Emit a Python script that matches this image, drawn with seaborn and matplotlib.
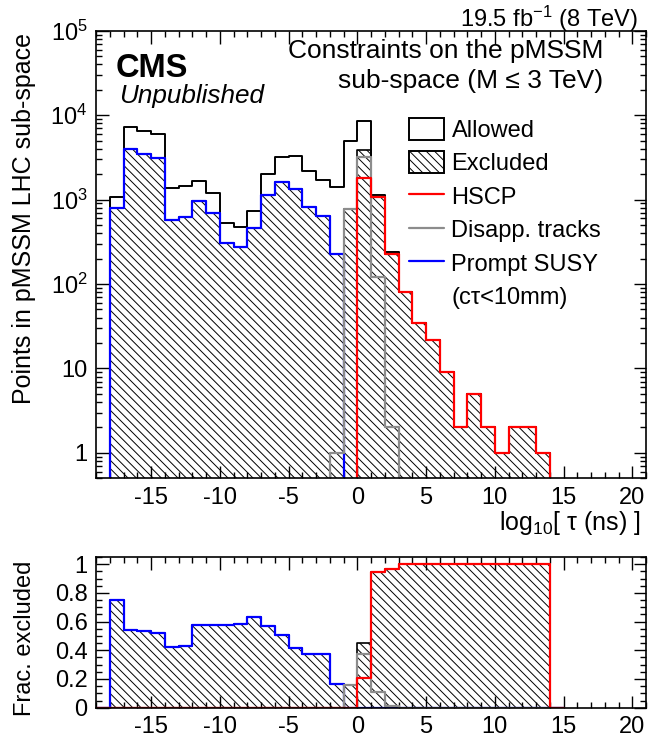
import numpy as np
import pandas as pd
import matplotlib
matplotlib.use('Agg')
import matplotlib.pyplot as plt
import seaborn as sns
from matplotlib.patches import Patch
from matplotlib.lines import Line2D
from matplotlib.ticker import FixedLocator, FixedFormatter, MultipleLocator, LogLocator, NullFormatter

# lower edges of the log10(tau/ns) bins (width 1)
bin_lo = list(range(-19, 15))

# points per bin
allowed = [0, 1070, 7280, 6470, 6020, 1365, 1443, 1667, 1213, 530, 471, 728, 2000, 3210, 3270,
           2190, 1700, 1415, 4890, 8510, 1140, 238, 80, 35, 22, 9, 2, 5, 2, 1, 2, 2, 1, 0]
excluded = [0, 806, 3960, 3455, 3120, 580, 618, 957, 695, 306, 275, 461, 1137, 1622, 1353,
            819, 641, 229, 784, 3855, 1080, 230, 80, 35, 22, 9, 2, 5, 2, 1, 2, 2, 1, 0]
hscp = [0, 0, 0, 0, 0, 0, 0, 0, 0, 0, 0, 0, 0, 0, 0,
        0, 0, 0, 0, 1780, 1080, 230, 80, 35, 22, 9, 2, 5, 2, 1, 2, 2, 1, 0]
disapp = [0, 0, 0, 0, 0, 0, 0, 0, 0, 0, 0, 0, 0, 0, 0,
          0, 0, 1, 784, 3210, 121, 2, 0, 0, 0, 0, 0, 0, 0, 0, 0, 0, 0, 0]
prompt = [0, 806, 3960, 3455, 3120, 580, 618, 957, 695, 306, 275, 461, 1137, 1622, 1353,
          819, 641, 229, 0, 0, 0, 0, 0, 0, 0, 0, 0, 0, 0, 0, 0, 0, 0, 0]

xticks = [-15, -10, -5, 0, 5, 10, 15, 20]
yticks_top = [1, 10, 100, 1e3, 1e4, 1e5]
ylabels_top = ['1', '10', '$10^{2}$', '$10^{3}$', '$10^{4}$', '$10^{5}$']
yticks_bot = [0, 0.2, 0.4, 0.6, 0.8, 1.0]
ylabels_bot = ['0', '0.2', '0.4', '0.6', '0.8', '1']

sns.set_theme(style='ticks')
plt.rcParams['font.family'] = ['Liberation Sans', 'DejaVu Sans']
plt.rcParams['mathtext.fontset'] = 'custom'
plt.rcParams['mathtext.rm'] = 'Liberation Sans'
plt.rcParams['mathtext.it'] = 'Liberation Sans:italic'
plt.rcParams['hatch.linewidth'] = 0.7
plt.rcParams['axes.linewidth'] = 1.2
plt.rcParams['text.color'] = 'black'

df = pd.DataFrame({'lo': bin_lo, 'allowed': allowed, 'excluded': excluded,
                   'hscp': hscp, 'disapp': disapp, 'prompt': prompt})
df['center'] = df['lo'] + 0.5
edges = [float(v) for v in df['lo']] + [float(df['lo'].iloc[-1] + 1)]
den = df['allowed'].replace(0, np.nan)
for c in ['excluded', 'hscp', 'disapp', 'prompt']:
    df['f_' + c] = (df[c] / den).fillna(0)

W, H = 649, 738
fig = plt.figure(figsize=(W / 100, H / 100), dpi=100)
ax = fig.add_axes([96 / W, 1 - 478.3 / H, 550 / W, (478.3 - 30.8) / H])
axr = fig.add_axes([96 / W, 1 - 707.7 / H, 550 / W, (707.7 - 557) / H])

hatch = '\\\\\\\\'
FS = 17

ax.set_yscale('log')
for a, pre in [(ax, ''), (axr, 'f_')]:
    sns.histplot(data=df, x='center', weights=pre + 'excluded', bins=edges, element='step',
                 fill=True, color='black', facecolor='none', edgecolor='black', hatch=hatch,
                 linewidth=1.2, ax=a)
    if pre == '':
        sns.histplot(data=df, x='center', weights='allowed', bins=edges, element='step',
                     fill=False, color='black', linewidth=1.4, ax=a)
    sns.histplot(data=df, x='center', weights=pre + 'prompt', bins=edges, element='step',
                 fill=False, color='#0000ff', linewidth=1.6, ax=a)
    sns.histplot(data=df, x='center', weights=pre + 'disapp', bins=edges, element='step',
                 fill=False, color='#8c8c8c', linewidth=1.6, ax=a)
    sns.histplot(data=df, x='center', weights=pre + 'hscp', bins=edges, element='step',
                 fill=False, color='#ff0000', linewidth=1.6, ax=a)

for a in (ax, axr):
    a.set_xlim(-19, 21)
    a.xaxis.set_major_locator(FixedLocator(xticks))
    a.xaxis.set_minor_locator(MultipleLocator(1))
    a.tick_params(which='both', direction='in', top=True, right=True, labelsize=FS,
                  colors='black', width=1)
    a.tick_params(which='major', length=9, pad=6)
    a.tick_params(which='minor', length=4.5)
    a.set_xlabel('')
    a.set_ylabel('')
    for s in a.spines.values():
        s.set_color('black')
    a.set_xticklabels([str(t) for t in xticks])

ax.set_ylim(0.5, 1e5)
ax.yaxis.set_major_locator(FixedLocator(yticks_top))
ax.yaxis.set_major_formatter(FixedFormatter(ylabels_top))
ax.yaxis.set_minor_locator(LogLocator(base=10, subs=np.arange(2, 10)))
ax.yaxis.set_minor_formatter(NullFormatter())

axr.set_ylim(0, 1.05)
axr.yaxis.set_major_locator(FixedLocator(yticks_bot))
axr.yaxis.set_major_formatter(FixedFormatter(ylabels_bot))
axr.yaxis.set_minor_locator(MultipleLocator(0.05))

# texts
fig.text(638 / W, 1 - 27 / H, '19.5 fb$^{-1}$ (8 TeV)', ha='right', va='baseline', fontsize=FS)
fig.text(116 / W, 1 - 77 / H, 'CMS', ha='left', va='baseline', fontsize=23.5, fontweight='bold')
fig.text(119 / W, 1 - 103 / H, 'Unpublished', ha='left', va='baseline', fontsize=18.8, style='italic')
fig.text(603 / W, 1 - 58 / H, 'Constraints on the pMSSM', ha='right', va='baseline', fontsize=19)
fig.text(603 / W, 1 - 88 / H, 'sub-space (M \u2264 3 TeV)', ha='right', va='baseline', fontsize=19)
fig.text(641 / W, 1 - 530 / H, 'log$_{10}$[ \u03c4 (ns) ]', ha='right', va='baseline', fontsize=18)
fig.text(24 / W, 1 - 218 / H, 'Points in pMSSM LHC sub-space', rotation=90, ha='center',
         va='center', fontsize=18)
fig.text(25 / W, 1 - 638 / H, 'Frac. excluded', rotation=90, ha='center', va='center', fontsize=FS)

handles = [
    Patch(facecolor='white', edgecolor='black', linewidth=1.4),
    Patch(facecolor='white', edgecolor='black', hatch=hatch, linewidth=1.4),
    Line2D([], [], color='#ff0000', lw=1.6),
    Line2D([], [], color='#8c8c8c', lw=1.6),
    Line2D([], [], color='#0000ff', lw=1.6),
    Line2D([], [], color='none'),
]
labels = ['Allowed', 'Excluded', 'HSCP', 'Disapp. tracks', 'Prompt SUSY', '(c\u03c4<10mm)']
fig.legend(handles, labels, loc='upper left', bbox_to_anchor=(409 / W, 1 - 118 / H),
           frameon=False, fontsize=FS, borderpad=0, borderaxespad=0, handlelength=1.5,
           handleheight=1.05, handletextpad=0.3, labelspacing=0.4)

fig.savefig('out.png', dpi=100)
